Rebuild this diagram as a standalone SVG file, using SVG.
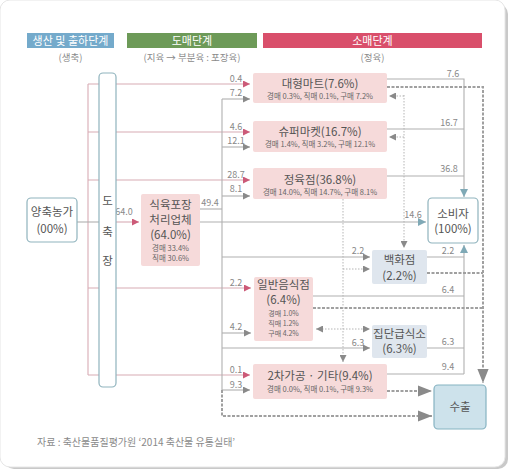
<svg xmlns="http://www.w3.org/2000/svg" width="510" height="471" viewBox="0 0 510 471">
<style>
text{font-family:"Noto Sans CJK KR","Noto Sans",sans-serif;}
.hd{font-size:11px;fill:#fff;text-anchor:middle;}
.sub{font-size:9.5px;fill:#8a8a8a;text-anchor:middle;}
.lb{font-size:9px;fill:#888;text-anchor:middle;}
.t{font-size:11.5px;fill:#555;text-anchor:middle;}
.s{font-size:7.5px;fill:#666;text-anchor:middle;}
.s2{font-size:7px;fill:#666;text-anchor:middle;}
.pk{fill:#f6dada;}
.bg{fill:#dfe6ee;}
.wb{fill:#fff;stroke:#8fb3bd;stroke-width:1.2;}
.lp{fill:none;stroke:#d8abb4;stroke-width:1.1;}
.lg{fill:none;stroke:#b0b0b0;stroke-width:1.1;}
.ld{fill:none;stroke:#a0a0a0;stroke-width:2;stroke-dasharray:3 1.5;}
.lo{fill:none;stroke:#b5b5b5;stroke-width:1;stroke-dasharray:1.5 1.5;}
</style>
<defs>
<marker id="ap" viewBox="0 0 10 10" refX="10" refY="5" markerWidth="7" markerHeight="7" markerUnits="userSpaceOnUse" orient="auto"><path d="M0,0 L10,5 L0,10 z" fill="#cc5a78"/></marker>
<marker id="ag" viewBox="0 0 10 10" refX="10" refY="5" markerWidth="7" markerHeight="7" markerUnits="userSpaceOnUse" orient="auto"><path d="M0,0 L10,5 L0,10 z" fill="#8a8a8a"/></marker>
<marker id="agl" viewBox="0 0 10 10" refX="0" refY="5" markerWidth="7" markerHeight="7" markerUnits="userSpaceOnUse" orient="auto"><path d="M10,0 L0,5 L10,10 z" fill="#8a8a8a"/></marker>
<marker id="at" viewBox="0 0 10 10" refX="10" refY="5" markerWidth="8" markerHeight="8" markerUnits="userSpaceOnUse" orient="auto"><path d="M0,0 L10,5 L0,10 z" fill="#7fa9b6"/></marker>
<marker id="ab" viewBox="0 0 10 10" refX="10" refY="5" markerWidth="14" markerHeight="14" markerUnits="userSpaceOnUse" orient="auto"><path d="M0,1 L10,5 L0,9 z" fill="#8a8a8a"/></marker>
</defs>
<rect x="0" y="0" width="510" height="471" fill="#fff"/>
<rect x="4" y="4" width="504" height="465" rx="10" fill="#c9c9c9"/>
<rect x="0" y="0" width="505" height="467" rx="10" fill="#fff" stroke="#e6e6e6"/>

<g id="headers">
<rect x="27" y="33" width="87" height="15" fill="#74aacb"/>
<text class="hd" x="70.5" y="44.5">생산 및 출하단계</text>
<rect x="127" y="33" width="130" height="15" fill="#6d9a58"/>
<text class="hd" x="192" y="44.5">도매단계</text>
<rect x="263" y="33" width="219" height="15" fill="#d94f6b"/>
<text class="hd" x="372.5" y="44.5">소매단계</text>
<text class="sub" x="70.5" y="61">(생축)</text>
<text class="sub" x="192" y="61">(지육 → 부분육 : 포장육)</text>
<text class="sub" x="372.5" y="61">(정육)</text>
</g>

<g id="connectors">
<path class="lp" d="M88,84 V375"/>
<path class="lp" d="M88,84 H250" marker-end="url(#ap)"/>
<path class="lp" d="M88,132 H250" marker-end="url(#ap)"/>
<path class="lp" d="M88,180 H250" marker-end="url(#ap)"/>
<path class="lp" d="M88,288 H251" marker-end="url(#ap)"/>
<path class="lp" d="M88,375 H250" marker-end="url(#ap)"/>
<path class="lg" d="M77,222 H99"/>
<path class="lp" d="M116,222 H139" marker-end="url(#ap)"/>
<path class="lg" d="M200,209 H222"/>
<path class="lg" d="M222,99 V390"/>
<path class="lg" d="M222,99 H250" marker-end="url(#ag)"/>
<path class="lg" d="M222,147 H250" marker-end="url(#ag)"/>
<path class="lg" d="M222,196 H250" marker-end="url(#ag)"/>
<path class="lg" d="M222,257 H370" marker-end="url(#ag)"/>
<path class="lg" d="M222,333 H251" marker-end="url(#ag)"/>
<path class="lg" d="M222,348 H370" marker-end="url(#ag)"/>
<path class="lg" d="M222,390 H250" marker-end="url(#ag)"/>
<path class="lg" d="M200,222 H426" marker-end="url(#at)"/>
<path class="lg" d="M387,79 H464 V197" marker-end="url(#at)"/>
<path class="lg" d="M387,129 H464"/>
<path class="lg" d="M387,176 H464"/>
<path class="lg" d="M464,374 V245" marker-end="url(#at)"/>
<path class="lg" d="M427,257 H464"/>
<path class="lg" d="M313,296 H464"/>
<path class="lg" d="M427,348 H464"/>
<path class="lg" d="M387,374 H464"/>
<path class="ld" d="M387,87 H483 V383" marker-end="url(#ab)"/>
<path class="ld" d="M427,273 H483"/>
<path class="ld" d="M313,308 H483"/>
<path class="ld" d="M387,391 H432" marker-end="url(#ab)"/>
<path class="ld" d="M222,390 V416 H432" marker-end="url(#ab)"/>
<path class="lo" d="M404,95 V248" marker-end="url(#ag)"/>
<path class="lo" d="M404,96 H389" marker-end="url(#ag)"/>
<path class="lo" d="M404,137 H389" marker-end="url(#ag)"/>
<path class="lo" d="M343,199 V362" marker-end="url(#ag)"/>
<path class="lo" d="M343,269 H370" marker-end="url(#ag)"/>
<path class="lo" d="M316,329 H370" marker-start="url(#agl)" marker-end="url(#ag)"/>
<g id="labels">
<text class="lb" x="236" y="82">0.4</text>
<text class="lb" x="236" y="96">7.2</text>
<text class="lb" x="236" y="130">4.6</text>
<text class="lb" x="236" y="144">12.1</text>
<text class="lb" x="236" y="178">28.7</text>
<text class="lb" x="236" y="192">8.1</text>
<text class="lb" x="236" y="286">2.2</text>
<text class="lb" x="236" y="330">4.2</text>
<text class="lb" x="236" y="373">0.1</text>
<text class="lb" x="236" y="388">9.3</text>
<text class="lb" x="124" y="215">64.0</text>
<text class="lb" x="210" y="206">49.4</text>
<text class="lb" x="413" y="218">14.6</text>
<text class="lb" x="358" y="254">2.2</text>
<text class="lb" x="358" y="346">6.3</text>
<text class="lb" x="453" y="77">7.6</text>
<text class="lb" x="449" y="126">16.7</text>
<text class="lb" x="449" y="172">36.8</text>
<text class="lb" x="448" y="254">2.2</text>
<text class="lb" x="448" y="293">6.4</text>
<text class="lb" x="448" y="345">6.3</text>
<text class="lb" x="448" y="370">9.4</text>
</g>
</g>

<g id="farm">
<rect class="wb" x="27" y="198" width="50" height="44" rx="4"/>
<text class="t" x="52" y="216">양축농가</text>
<text class="t" x="52" y="233">(00%)</text>
</g>
<g id="slaughter">
<rect class="wb" x="99" y="73" width="17" height="314" rx="4"/>
<text class="t" x="107.5" y="205">도</text>
<text class="t" x="107.5" y="236">축</text>
<text class="t" x="107.5" y="265">장</text>
</g>
<g id="packer">
<rect class="pk" x="141" y="194" width="59" height="72" rx="2"/>
<text class="t" x="170.5" y="209">식육포장</text>
<text class="t" x="170.5" y="224">처리업체</text>
<text class="t" x="170.5" y="239">(64.0%)</text>
<text class="s" x="170.5" y="251">경매 33.4%</text>
<text class="s" x="170.5" y="261">직매 30.6%</text>
</g>
<g id="mart">
<rect class="pk" x="253" y="73" width="134" height="30" rx="2"/>
<text class="t" x="320" y="88">대형마트(7.6%)</text>
<text class="s" x="320" y="99">경매 0.3%, 직매 0.1%, 구매 7.2%</text>
</g>
<g id="super">
<rect class="pk" x="253" y="121" width="134" height="31" rx="2"/>
<text class="t" x="320" y="136">슈퍼마켓(16.7%)</text>
<text class="s" x="320" y="147">경매 1.4%, 직매 3.2%, 구매 12.1%</text>
</g>
<g id="butcher">
<rect class="pk" x="253" y="168" width="134" height="31" rx="2"/>
<text class="t" x="320" y="184">정육점(36.8%)</text>
<text class="s" x="320" y="195">경매 14.0%, 직매 14.7%, 구매 8.1%</text>
</g>
<g id="restaurant">
<rect class="pk" x="254" y="277" width="59" height="64" rx="2"/>
<text class="t" x="283.5" y="289">일반음식점</text>
<text class="t" x="283.5" y="304">(6.4%)</text>
<text class="s2" x="283.5" y="316">경매 1.0%</text>
<text class="s2" x="283.5" y="326">직매 1.2%</text>
<text class="s2" x="283.5" y="336">구매 4.2%</text>
</g>
<g id="secondary">
<rect class="pk" x="253" y="364" width="134" height="35" rx="2"/>
<text class="t" x="320" y="380">2차가공 · 기타(9.4%)</text>
<text class="s" x="320" y="392">경매 0.0%, 직매 0.1%, 구매 9.3%</text>
</g>
<g id="consumer">
<rect class="wb" x="428" y="198" width="50" height="45" rx="4"/>
<text class="t" x="453" y="218">소비자</text>
<text class="t" x="453" y="233">(100%)</text>
</g>
<g id="dept">
<rect class="bg" x="372" y="250" width="55" height="34" rx="2"/>
<text class="t" x="399.5" y="264">백화점</text>
<text class="t" x="399.5" y="280">(2.2%)</text>
</g>
<g id="catering">
<rect class="bg" x="372" y="325" width="55" height="33" rx="2"/>
<text class="t" x="399.5" y="338">집단급식소</text>
<text class="t" x="399.5" y="353">(6.3%)</text>
</g>
<g id="export">
<rect x="434" y="385" width="52" height="44" rx="4" fill="#cde2eb" stroke="#86b3c2" stroke-width="1.2"/>
<text class="t" x="460" y="411">수출</text>
</g>
<text x="37" y="446" font-size="10" fill="#8a8a8a">자료 : 축산물품질평가원 ‘2014 축산물 유통실태’</text>
</svg>
